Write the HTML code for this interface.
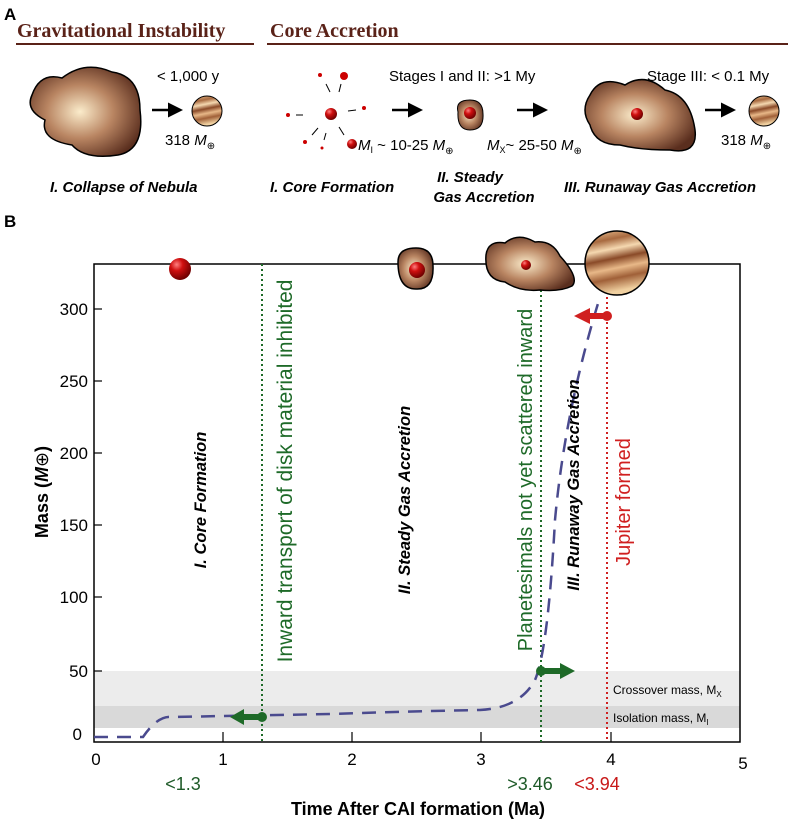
<!DOCTYPE html>
<html><head><meta charset="utf-8"><style>
body{margin:0;background:#fff}
</style></head><body>
<svg width="788" height="820" viewBox="0 0 788 820" xmlns="http://www.w3.org/2000/svg" font-family="Liberation Sans, sans-serif">
<defs>
<radialGradient id="neb" cx="0.45" cy="0.5" r="0.6"><stop offset="0" stop-color="#fbeccb"/><stop offset="0.5" stop-color="#b98562"/><stop offset="1" stop-color="#5a2e1e"/></radialGradient>
<radialGradient id="red" cx="0.35" cy="0.3" r="0.7"><stop offset="0" stop-color="#ff8080"/><stop offset="0.4" stop-color="#d01010"/><stop offset="1" stop-color="#700000"/></radialGradient>
<linearGradient id="jup" x1="0" y1="0" x2="0.2" y2="1"><stop offset="0" stop-color="#f0c898"/><stop offset="0.2" stop-color="#a86a40"/><stop offset="0.35" stop-color="#f5d8b0"/><stop offset="0.5" stop-color="#8a4a28"/><stop offset="0.65" stop-color="#e8b888"/><stop offset="0.8" stop-color="#a06038"/><stop offset="1" stop-color="#f0d0a0"/></linearGradient>
<marker id="ah" markerWidth="6" markerHeight="6" refX="4" refY="3" orient="auto"><path d="M0 0 L6 3 L0 6Z" fill="#000"/></marker>
</defs>
<text x="4" y="20" font-size="17" font-weight="bold">A</text>
<text x="17" y="37" font-size="20" font-weight="bold" fill="#5a2218" style="font-family:'Liberation Serif',serif">Gravitational Instability</text>
<line x1="16" y1="44" x2="254" y2="44" stroke="#5a2218" stroke-width="2"/>
<text x="270" y="37" font-size="20" font-weight="bold" fill="#5a2218" style="font-family:'Liberation Serif',serif">Core Accretion</text>
<line x1="267" y1="44" x2="788" y2="44" stroke="#5a2218" stroke-width="2"/>
<path d="M32 95 Q40 72 62 78 Q85 60 112 72 Q140 76 140 110 Q145 150 118 155 Q85 160 72 145 Q40 140 45 120 Q25 110 32 95Z" fill="url(#neb)" stroke="#000" stroke-width="1.5"/>
<text x="157" y="81" font-size="15">&lt; 1,000 y</text>
<g stroke="#000" stroke-width="2.5" marker-end="url(#ah)">
<line x1="152" y1="110" x2="178" y2="110"/><line x1="392" y1="110" x2="418" y2="110"/><line x1="517" y1="110" x2="543" y2="110"/><line x1="705" y1="110" x2="731" y2="110"/>
</g>
<circle cx="207" cy="111" r="15" fill="url(#jup)" stroke="#000"/>
<text x="165" y="145" font-size="15">318 <tspan font-style="italic">M</tspan><tspan font-size="10" dy="4">⊕</tspan></text>
<text x="50" y="192" font-size="15" font-weight="bold" font-style="italic">I. Collapse of Nebula</text>
<circle cx="331" cy="114" r="6" fill="url(#red)"/>
<circle cx="344" cy="76" r="4" fill="#c00"/>
<circle cx="352" cy="144" r="5" fill="url(#red)"/>
<g fill="#c00"><circle cx="288" cy="115" r="2"/><circle cx="364" cy="108" r="2"/><circle cx="305" cy="142" r="2"/><circle cx="320" cy="75" r="2"/><circle cx="322" cy="148" r="1.5"/></g>
<g stroke="#000" stroke-width="1"><line x1="296" y1="115" x2="303" y2="115"/><line x1="356" y1="110" x2="348" y2="111"/><line x1="326" y1="84" x2="330" y2="92"/><line x1="341" y1="84" x2="339" y2="92"/><line x1="312" y1="135" x2="318" y2="128"/><line x1="344" y1="135" x2="339" y2="127"/><line x1="324" y1="140" x2="326" y2="133"/></g>
<text x="389" y="81" font-size="15">Stages I and II: &gt;1 My</text>
<text x="358" y="150" font-size="15"><tspan font-style="italic">M</tspan><tspan font-size="9" dy="3">I</tspan><tspan dy="-3"> ~ 10-25 </tspan><tspan font-style="italic">M</tspan><tspan font-size="10" dy="4">⊕</tspan></text>
<path d="M458 112 Q455 100 470 100 Q483 100 483 114 Q484 130 470 130 Q457 130 458 112Z" fill="url(#neb)" stroke="#000"/>
<circle cx="470" cy="113" r="6" fill="url(#red)"/>
<text x="487" y="150" font-size="15"><tspan font-style="italic">M</tspan><tspan font-size="9" dy="3">X</tspan><tspan dy="-3">~ 25-50 </tspan><tspan font-style="italic">M</tspan><tspan font-size="10" dy="4">⊕</tspan></text>
<path d="M590 95 Q600 75 625 85 Q645 72 665 90 Q690 95 695 130 Q698 155 670 150 Q640 150 620 145 Q595 145 590 125 Q580 110 590 95Z" fill="url(#neb)" stroke="#000" stroke-width="1.5"/>
<circle cx="637" cy="114" r="6" fill="url(#red)"/>
<text x="647" y="81" font-size="15">Stage III: &lt; 0.1 My</text>
<circle cx="764" cy="111" r="15" fill="url(#jup)" stroke="#000"/>
<text x="721" y="145" font-size="15">318 <tspan font-style="italic">M</tspan><tspan font-size="10" dy="4">⊕</tspan></text>
<text x="270" y="192" font-size="15" font-weight="bold" font-style="italic">I. Core Formation</text>
<text x="470" y="182" font-size="15" font-weight="bold" font-style="italic" text-anchor="middle">II. Steady</text>
<text x="484" y="202" font-size="15" font-weight="bold" font-style="italic" text-anchor="middle">Gas Accretion</text>
<text x="564" y="192" font-size="15" font-weight="bold" font-style="italic">III. Runaway Gas Accretion</text>
<text x="4" y="227" font-size="17" font-weight="bold">B</text>

<rect x="94" y="671" width="646" height="35" fill="#ececec"/>
<rect x="94" y="706" width="646" height="22" fill="#d9d9d9"/>
<rect x="94" y="264" width="646" height="478" fill="none" stroke="#000" stroke-width="1.5"/>
<g stroke="#000" stroke-width="1.2">
<line x1="94" y1="309" x2="102" y2="309"/><line x1="94" y1="381" x2="102" y2="381"/><line x1="94" y1="453" x2="102" y2="453"/><line x1="94" y1="525" x2="102" y2="525"/><line x1="94" y1="597" x2="102" y2="597"/><line x1="94" y1="671" x2="102" y2="671"/>
<line x1="223" y1="732" x2="223" y2="742"/><line x1="352" y1="732" x2="352" y2="742"/><line x1="481" y1="732" x2="481" y2="742"/><line x1="611" y1="732" x2="611" y2="742"/>
</g>
<g font-size="17" text-anchor="end">
<text x="88" y="315">300</text><text x="88" y="387">250</text><text x="88" y="459">200</text><text x="88" y="531">150</text><text x="88" y="603">100</text><text x="88" y="677">50</text><text x="82" y="740">0</text>
</g>
<g font-size="17" text-anchor="middle">
<text x="96" y="765">0</text><text x="223" y="765">1</text><text x="352" y="765">2</text><text x="481" y="765">3</text><text x="611" y="765">4</text><text x="743" y="769">5</text>
</g>
<text x="183" y="790" font-size="18" fill="#1e5a28" text-anchor="middle">&lt;1.3</text>
<text x="530" y="790" font-size="18" fill="#1e5a28" text-anchor="middle">&gt;3.46</text>
<text x="597" y="790" font-size="18" fill="#c81818" text-anchor="middle">&lt;3.94</text>
<text x="418" y="815" font-size="18" font-weight="bold" text-anchor="middle">Time After CAI formation (Ma)</text>
<text transform="translate(48 492) rotate(-90)" font-size="18" font-weight="bold" text-anchor="middle">Mass (<tspan font-style="italic">M</tspan><tspan font-weight="normal">⊕</tspan>)</text>

<line x1="262" y1="264" x2="262" y2="742" stroke="#1e6a28" stroke-width="2" stroke-dasharray="2 3"/>
<line x1="541" y1="290" x2="541" y2="742" stroke="#1e6a28" stroke-width="2" stroke-dasharray="2 3"/>
<line x1="607" y1="292" x2="607" y2="742" stroke="#d02020" stroke-width="2" stroke-dasharray="2 3"/>
<path d="M94 737 L143 737 Q158 715 172 717 L330 714 Q420 711 480 710 Q520 708 535 680 Q548 650 555 520 Q565 410 600 297" fill="none" stroke="#4a4a8e" stroke-width="2.5" stroke-dasharray="14 9"/>
<circle cx="262" cy="717" r="5" fill="#1e6a28"/>
<path d="M258 714 L244 714 L244 709 L230 717 L244 725 L244 720 L258 720Z" fill="#1e6a28"/>
<circle cx="541" cy="671" r="5" fill="#1e6a28"/>
<path d="M545 668 L560 668 L560 663 L575 671 L560 679 L560 674 L545 674Z" fill="#1e6a28"/>
<circle cx="607" cy="316" r="5" fill="#d02020"/>
<path d="M603 313 L590 313 L590 308 L574 316 L590 324 L590 319 L603 319Z" fill="#d02020"/>

<text transform="translate(206 500) rotate(-90)" font-size="16.5" font-weight="bold" font-style="italic" text-anchor="middle">I. Core Formation</text>
<text transform="translate(292 471) rotate(-90)" font-size="21" fill="#1e6a28" text-anchor="middle">Inward transport of disk material inhibited</text>
<text transform="translate(410 500) rotate(-90)" font-size="16.5" font-weight="bold" font-style="italic" text-anchor="middle">II. Steady Gas Accretion</text>
<text transform="translate(532 480) rotate(-90)" font-size="20" fill="#1e6a28" text-anchor="middle">Planetesimals not yet scattered inward</text>
<text transform="translate(579 485) rotate(-90)" font-size="16.5" font-weight="bold" font-style="italic" text-anchor="middle">III. Runaway Gas Accretion</text>
<text transform="translate(630 502) rotate(-90)" font-size="20" fill="#d02020" text-anchor="middle">Jupiter formed</text>
<text x="613" y="694" font-size="12">Crossover mass, M<tspan font-size="8" dy="3">X</tspan></text>
<text x="613" y="722" font-size="12">Isolation mass, M<tspan font-size="8" dy="3">I</tspan></text>

<circle cx="180" cy="269" r="11" fill="url(#red)"/>
<path d="M398 262 Q398 248 416 248 Q433 248 433 266 Q434 290 416 289 Q398 289 398 262Z" fill="url(#neb)" stroke="#000" stroke-width="1.5"/>
<circle cx="417" cy="270" r="8" fill="url(#red)"/>
<path d="M486 255 Q488 240 505 243 Q518 232 535 242 Q552 240 560 256 Q580 278 572 286 Q560 292 540 290 Q520 292 505 282 Q484 280 486 255Z" fill="url(#neb)" stroke="#000" stroke-width="1.5"/>
<circle cx="526" cy="265" r="5" fill="url(#red)"/>
<circle cx="617" cy="263" r="32" fill="url(#jup)" stroke="#000" stroke-width="1.5"/>
</svg>
</body></html>
